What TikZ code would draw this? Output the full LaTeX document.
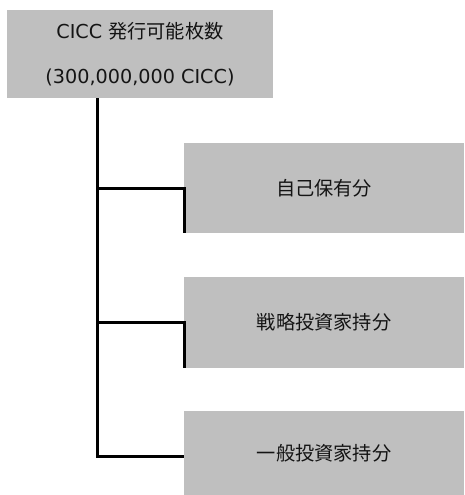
\documentclass[tikz,border=0pt]{standalone}
\usepackage{fontspec}
\setmainfont{DejaVu Sans}
\newfontfamily\cjk{Noto Sans CJK JP}
\definecolor{boxgray}{RGB}{191,191,191}
\definecolor{txt}{RGB}{20,20,20}
\begin{document}
\begin{tikzpicture}[x=1pt,y=-1pt,
  box/.style={rectangle,fill=boxgray,inner sep=0pt,text=txt,font=\fontsize{19.2}{45}\selectfont,align=center},
  conn/.style={line width=3pt,black}]
\useasboundingbox (0,0) rectangle (464,495);
\node[box,minimum width=266pt,minimum height=88pt] (top) at (140,54)
  {CICC {\cjk 発行可能枚数}\\(300,000,000 CICC)};
\node[box,minimum width=280pt,minimum height=90pt] (b1) at (324,188) {\cjk 自己保有分};
\node[box,minimum width=280pt,minimum height=91pt] (b2) at (324,322.5) {\cjk 戦略投資家持分};
\node[box,minimum width=280pt,minimum height=84pt] (b3) at (324,453) {\cjk 一般投資家持分};
\coordinate (t0) at (97,98);
\coordinate (t3) at (97,456);
\draw[conn] (t0) -- (t3) -- ([yshift=-3pt]b3.west);
\draw[conn] (t0 |- b1.west) -- ([xshift=1pt]b1.west) -- ([xshift=1pt]b1.south west);
\draw[conn] (t0 |- b2.west) -- ([xshift=1pt]b2.west) -- ([xshift=1pt]b2.south west);
\end{tikzpicture}
\end{document}
